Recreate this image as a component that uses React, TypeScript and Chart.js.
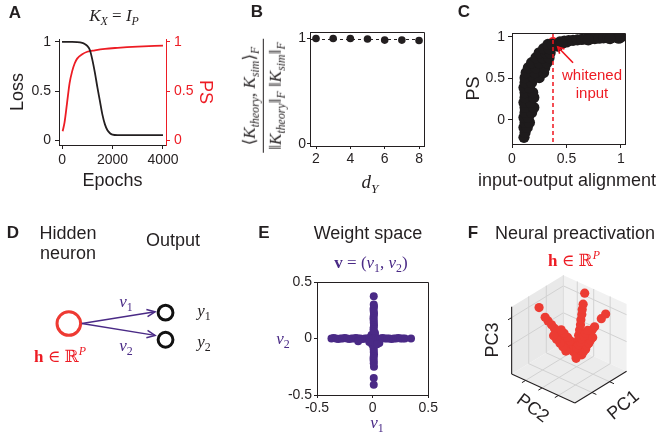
import React, { useEffect, useRef } from 'react';
import { Chart, registerables } from 'chart.js';

Chart.register(...registerables);

const SANS = '"Liberation Sans", Arial, Helvetica, sans-serif';
const SERIF = '"Liberation Serif", "DejaVu Serif", "Times New Roman", serif';
const INK = '#231f20';
const RED = '#ed1c24';
const PURPLE = '#4a2a86';
const F_RED = '#ec3c33';

// ---------- Panel A: training curves (K_X = I_P)
const lossEpochs = [0, 200, 400, 600, 800, 900, 1000, 1100, 1200, 1300, 1400, 1500, 1600, 1700, 1800, 1900, 2000, 2200, 2500, 3000, 3500, 4000];
const lossValues = [1.0, 1.0, 1.0, 0.998, 0.99, 0.98, 0.96, 0.92, 0.82, 0.69, 0.54, 0.4, 0.26, 0.16, 0.1, 0.07, 0.055, 0.05, 0.05, 0.05, 0.05, 0.05];
const psEpochs = [25, 100, 200, 300, 400, 500, 600, 800, 1000, 1300, 1700, 2200, 3000, 4000];
const psValues = [0.09, 0.18, 0.38, 0.58, 0.7, 0.78, 0.83, 0.875, 0.9, 0.915, 0.93, 0.94, 0.952, 0.963];
const epochTicks = [0, 2000, 4000];
const unitTicks = [0, 0.5, 1];

// ---------- Panel B: kernel alignment vs d_Y
const dY = [2, 3, 4, 5, 6, 7, 8];
const kernelAlign = [1.0, 1.0, 1.0, 0.995, 0.985, 0.985, 0.982];
const dYTicks = [2, 4, 6, 8];
const bYTicks = [0, 1];
const bRefLine = 1;

// ---------- Panel C: PS vs input-output alignment
const ioAlign = [
  0.11, 0.12, 0.11, 0.14, 0.12, 0.16, 0.11, 0.15, 0.12, 0.18, 0.12, 0.2, 0.11, 0.17, 0.12, 0.2, 0.12, 0.19, 0.11, 0.16, 0.12, 0.18,
  0.12, 0.2, 0.25, 0.13, 0.21, 0.29, 0.15, 0.22, 0.3, 0.18, 0.25, 0.32, 0.22, 0.28, 0.34, 0.25, 0.31, 0.35, 0.29, 0.34, 0.33, 0.37,
  0.42, 0.44, 0.48, 0.52, 0.56, 0.6, 0.64, 0.68, 0.72, 0.76, 0.8, 0.84, 0.88, 0.92, 0.96, 1.0, 0.98, 0.9, 0.7, 0.5, 0.46,
];
const psC = [
  -0.21, -0.15, -0.09, -0.09, -0.03, -0.03, 0.03, 0.03, 0.09, 0.09, 0.15, 0.15, 0.21, 0.21, 0.27, 0.27, 0.33, 0.33, 0.39, 0.39, 0.45, 0.45,
  0.51, 0.51, 0.51, 0.57, 0.57, 0.57, 0.63, 0.63, 0.63, 0.69, 0.69, 0.69, 0.75, 0.75, 0.75, 0.81, 0.81, 0.81, 0.86, 0.86, 0.91, 0.91,
  0.89, 0.94, 0.95, 0.955, 0.96, 0.965, 0.97, 0.975, 0.978, 0.98, 0.985, 0.99, 0.99, 0.995, 1.0, 1.0, 0.985, 0.98, 0.965, 0.94, 0.925,
];
const whitenedAlign = 0.376;
const whitenedPS = 0.94;
const cXTicks = [0, 0.5, 1];
const cYTicks = [0, 0.5, 1];
const arrowTail = { x: 0.56, y: 0.69 };
const arrowHead = { x: 0.42, y: 0.88 };

// ---------- Panel D: schematic (diagram layout units)
const hiddenNode = [{ x: 62, y: 113 }];
const outputNodes = [{ x: 173, y: 100.5 }, { x: 173, y: 131.5 }];
const arrowStarts = [{ x: 77, y: 113 }, { x: 77, y: 113 }];
const arrowEnds = [{ x: 161, y: 99.5 }, { x: 161, y: 126.5 }];

// ---------- Panel E: weight space
const horizV1 = [-0.37, -0.35, -0.33, -0.31, -0.29, -0.27, -0.25, -0.23, -0.21, -0.19, -0.17, -0.15, -0.13, -0.11, -0.09, -0.07, -0.05, -0.03, -0.01, 0.01, 0.03, 0.05, 0.07, 0.09, 0.11, 0.13, 0.15, 0.17, 0.19, 0.21, 0.23, 0.25, 0.27, 0.29, 0.345, -0.13, 0.06, 0.04, -0.03];
const horizV2 = [0, 0.005, 0, -0.005, 0, 0, 0.005, 0, -0.005, 0, 0, 0.005, 0, 0, -0.005, 0, 0, 0.005, 0, 0, 0, -0.005, 0, 0.005, 0, 0, 0, -0.005, 0, 0, 0.005, 0, 0, 0, 0, -0.025, -0.04, -0.05, -0.03];
const vertV1 = [0.01, 0.01, 0.012, 0.008, 0.01, 0.012, 0.01, 0.008, 0.01, 0.01, 0.012, 0.01, 0.008, 0.01, 0.02, 0.0, 0.01, 0.012, 0.01, 0.008, 0.01, 0.01, 0.012, 0.01, 0.008, 0.01, 0.01, 0.012, 0.01, 0.01, -0.01, 0.03, 0.02, -0.005];
const vertV2 = [0.375, 0.3, 0.28, 0.26, 0.24, 0.22, 0.2, 0.18, 0.16, 0.14, 0.12, 0.1, 0.08, 0.06, 0.04, 0.02, -0.02, -0.04, -0.06, -0.08, -0.1, -0.12, -0.14, -0.16, -0.18, -0.2, -0.22, -0.25, -0.35, -0.41, 0.03, -0.03, 0.05, -0.05];
const eTicks = [-0.5, 0, 0.5];

// ---------- Panel F: neural preactivation (PC coordinates, box units)
const pc1 = [
  0.44, 0.46, 0.49, 0.51, 0.53, 0.56, 0.58, 0.6, 0.62, 0.65, 0.67,
  0.46, 0.49, 0.51, 0.53, 0.56, 0.58,
  0.49, 0.51, 0.53, 0.56, 0.58,
  0.69,
  0.41, 0.39, 0.36, 0.34, 0.31, 0.28, 0.26, 0.23, 0.21, 0.18,
  0.15,
  0.42, 0.39, 0.37, 0.34, 0.32, 0.29, 0.27, 0.24, 0.22, 0.19,
  0.39, 0.37, 0.34, 0.32, 0.29, 0.27, 0.24,
  0.39, 0.37, 0.34, 0.32, 0.29, 0.27, 0.24,
  0.11, 0.05, 0.45,
];
const pc2 = [
  0.56, 0.53, 0.5, 0.47, 0.44, 0.41, 0.38, 0.35, 0.32, 0.29, 0.26,
  0.59, 0.56, 0.53, 0.5, 0.47, 0.44,
  0.44, 0.41, 0.38, 0.35, 0.32,
  0.18,
  0.55, 0.54, 0.53, 0.52, 0.51, 0.5, 0.49, 0.48, 0.47, 0.46,
  0.46,
  0.57, 0.58, 0.59, 0.6, 0.6, 0.61, 0.62, 0.63, 0.64, 0.65,
  0.61, 0.62, 0.63, 0.63, 0.64, 0.65, 0.66,
  0.53, 0.54, 0.55, 0.55, 0.56, 0.57, 0.58,
  0.69, 0.71, 0.57,
];
const pc3 = [
  0.25, 0.31, 0.36, 0.42, 0.47, 0.53, 0.58, 0.64, 0.69, 0.75, 0.8,
  0.38, 0.43, 0.49, 0.54, 0.6, 0.65,
  0.29, 0.35, 0.4, 0.46, 0.51,
  0.92,
  0.31, 0.37, 0.43, 0.49, 0.55, 0.61, 0.67, 0.73, 0.79, 0.85,
  1.0,
  0.29, 0.32, 0.36, 0.39, 0.43, 0.46, 0.5, 0.53, 0.57, 0.6,
  0.26, 0.3, 0.33, 0.37, 0.4, 0.44, 0.47,
  0.33, 0.37, 0.4, 0.44, 0.47, 0.51, 0.54,
  0.7, 0.75, 0.22,
];
const pc1Grid = [0.33, 0.67];
const pc2Grid = [0.22, 0.48, 0.74];
const pc3Grid = [0.44, 0.84];

// 3D view (oblique projection of the unit box)
const VIEW = { ox: 124, oy: 133, ax: -54, ay: 33, bx: 66, by: 30, cy: -70 };
function project(a: number, b: number, c: number) {
  return { x: VIEW.ox + VIEW.ax * a + VIEW.bx * b, y: VIEW.oy + VIEW.ay * a + VIEW.by * b + VIEW.cy * c };
}

// ---------- helpers
const baseOptions: any = {
  responsive: false,
  animation: false,
  devicePixelRatio: 1,
  events: [],
  plugins: { legend: { display: false }, tooltip: { enabled: false } },
};

function axis(o: any) {
  const color = o.color || INK;
  const horizontal = o.position === 'bottom';
  return {
    type: 'linear',
    position: o.position,
    min: o.min,
    max: o.max,
    afterBuildTicks: (s: any) => {
      s.ticks = o.ticks.map((value: number) => ({ value }));
    },
    afterFit: (s: any) => {
      if (horizontal) s.height = o.size;
      else s.width = o.size;
    },
    ticks: {
      color,
      font: { family: SANS, size: 14 },
      padding: o.tickPad ?? 3,
      autoSkip: false,
      maxRotation: 0,
      callback: (v: any) => String(v),
    },
    grid: { display: true, drawOnChartArea: false, drawTicks: true, tickLength: o.tickLen ?? 4, color, lineWidth: 1 },
    border: { display: true, color, width: 1 },
    title: o.title
      ? {
          display: true,
          text: o.title,
          color,
          font: { family: SANS, size: 18 },
          padding: horizontal ? { top: 0, bottom: o.titlePad ?? 0 } : { top: o.titlePad ?? 0, bottom: 0 },
        }
      : { display: false },
  };
}

const boxPlugin = {
  id: 'box',
  afterDatasetsDraw(chart: any) {
    const { ctx, chartArea } = chart;
    const l = Math.round(chartArea.left) + 0.5;
    const t = Math.round(chartArea.top) + 0.5;
    const r = Math.round(chartArea.right) + 0.5;
    const b = Math.round(chartArea.bottom) + 0.5;
    ctx.save();
    ctx.strokeStyle = INK;
    ctx.lineWidth = 1;
    ctx.beginPath();
    ctx.moveTo(l, t);
    ctx.lineTo(r, t);
    ctx.lineTo(r, b);
    ctx.stroke();
    ctx.restore();
  },
};

function ChartBox(props: { left: number; top: number; width: number; height: number; make: () => any }) {
  const ref = useRef<HTMLCanvasElement>(null);
  useEffect(() => {
    const chart = new Chart(ref.current as HTMLCanvasElement, props.make());
    return () => chart.destroy();
  }, []);
  return (
    <canvas
      ref={ref}
      width={props.width}
      height={props.height}
      style={{ position: 'absolute', left: props.left, top: props.top, width: props.width, height: props.height }}
    />
  );
}

// ---------- chart configs
function configA() {
  return {
    type: 'line',
    data: {
      datasets: [
        {
          data: lossEpochs.map((x, i) => ({ x, y: lossValues[i] })),
          borderColor: INK,
          borderWidth: 1.8,
          pointRadius: 0,
          cubicInterpolationMode: 'monotone',
          yAxisID: 'y',
        },
        {
          data: psEpochs.map((x, i) => ({ x, y: psValues[i] })),
          borderColor: RED,
          borderWidth: 1.8,
          pointRadius: 0,
          cubicInterpolationMode: 'monotone',
          yAxisID: 'y1',
        },
      ],
    },
    options: {
      ...baseOptions,
      layout: { padding: { top: 39, left: 0, right: 0, bottom: 0 } },
      scales: {
        x: axis({ min: -120, max: 4120, ticks: epochTicks, size: 55, position: 'bottom', title: 'Epochs', titlePad: 8 }),
        y: axis({ min: -0.05, max: 1.03, ticks: unitTicks, size: 59, position: 'left', title: 'Loss', titlePad: 7, tickPad: 4 }),
        y1: axis({ min: -0.05, max: 1.03, ticks: unitTicks, size: 54, position: 'right', color: RED, title: 'PS', titlePad: 4, tickPad: 4 }),
      },
    },
  };
}

const bRefPlugin = {
  id: 'bRef',
  beforeDatasetsDraw(chart: any) {
    const { ctx, chartArea, scales } = chart;
    const py = Math.round(scales.y.getPixelForValue(bRefLine)) + 0.5;
    ctx.save();
    ctx.strokeStyle = INK;
    ctx.lineWidth = 1;
    ctx.setLineDash([3, 3]);
    ctx.beginPath();
    ctx.moveTo(chartArea.left, py);
    ctx.lineTo(chartArea.right, py);
    ctx.stroke();
    ctx.restore();
  },
};

function configB() {
  return {
    type: 'scatter',
    data: {
      datasets: [
        {
          data: dY.map((x, i) => ({ x, y: kernelAlign[i] })),
          pointRadius: 3.8,
          backgroundColor: INK,
          borderWidth: 0,
        },
      ],
    },
    options: {
      ...baseOptions,
      layout: { padding: { top: 32, left: 0, right: 6, bottom: 0 } },
      scales: {
        x: axis({ min: 1.65, max: 8.29, ticks: dYTicks, size: 54, position: 'bottom', tickLen: 3, tickPad: 2 }),
        y: axis({ min: -0.02, max: 1.062, ticks: bYTicks, size: 90, position: 'left', tickLen: 3, tickPad: 1 }),
      },
    },
    plugins: [bRefPlugin, boxPlugin],
  };
}

const cMarkPlugin = {
  id: 'cMark',
  afterDatasetsDraw(chart: any) {
    const { ctx, chartArea, scales } = chart;
    const { x, y } = scales;
    const px = Math.round(x.getPixelForValue(whitenedAlign));
    ctx.save();
    ctx.strokeStyle = '#f0141e';
    ctx.lineWidth = 1.5;
    ctx.setLineDash([4, 3]);
    ctx.beginPath();
    ctx.moveTo(px, chartArea.top);
    ctx.lineTo(px, chartArea.bottom);
    ctx.stroke();
    ctx.setLineDash([]);
    const x0 = x.getPixelForValue(arrowTail.x);
    const y0 = y.getPixelForValue(arrowTail.y);
    const x1 = x.getPixelForValue(arrowHead.x);
    const y1 = y.getPixelForValue(arrowHead.y);
    ctx.lineWidth = 1.6;
    ctx.beginPath();
    ctx.moveTo(x0, y0);
    ctx.lineTo(x1, y1);
    ctx.stroke();
    const ang = Math.atan2(y1 - y0, x1 - x0);
    const L = 7;
    ctx.beginPath();
    ctx.moveTo(x1 - L * Math.cos(ang - 0.5), y1 - L * Math.sin(ang - 0.5));
    ctx.lineTo(x1, y1);
    ctx.lineTo(x1 - L * Math.cos(ang + 0.5), y1 - L * Math.sin(ang + 0.5));
    ctx.stroke();
    ctx.restore();
  },
};

function configC() {
  return {
    type: 'scatter',
    data: {
      datasets: [
        {
          data: ioAlign.map((x, i) => ({ x, y: psC[i] })),
          pointRadius: 5.6,
          backgroundColor: '#1e1b1c',
          borderWidth: 0,
        },
        {
          data: [{ x: whitenedAlign, y: whitenedPS }],
          pointRadius: 5,
          backgroundColor: RED,
          borderWidth: 0,
        },
      ],
    },
    options: {
      ...baseOptions,
      layout: { padding: { top: 33, left: 0, right: 33, bottom: 0 } },
      scales: {
        x: axis({ min: 0, max: 1.037, ticks: cXTicks, size: 56, position: 'bottom' }),
        y: axis({ min: -0.29, max: 1.048, ticks: cYTicks, size: 72, position: 'left', title: 'PS', titlePad: 23 }),
      },
    },
    plugins: [cMarkPlugin, boxPlugin],
  };
}

const dArrowPlugin = {
  id: 'dArrow',
  afterDatasetsDraw(chart: any) {
    const { ctx, scales } = chart;
    ctx.save();
    ctx.strokeStyle = PURPLE;
    ctx.lineWidth = 1.5;
    arrowEnds.forEach((end, i) => {
      const s = arrowStarts[i];
      const x0 = scales.x.getPixelForValue(s.x);
      const y0 = scales.y.getPixelForValue(s.y);
      const x1 = scales.x.getPixelForValue(end.x);
      const y1 = scales.y.getPixelForValue(end.y);
      const ang = Math.atan2(y1 - y0, x1 - x0);
      const L = 9;
      ctx.beginPath();
      ctx.moveTo(x1 - L * Math.cos(ang - 0.42), y1 - L * Math.sin(ang - 0.42));
      ctx.lineTo(x1, y1);
      ctx.lineTo(x1 - L * Math.cos(ang + 0.42), y1 - L * Math.sin(ang + 0.42));
      ctx.stroke();
    });
    ctx.restore();
  },
};

function hiddenScales(w: number, h: number) {
  return {
    x: { type: 'linear', display: false, min: 0, max: w },
    y: { type: 'linear', display: false, min: 0, max: h, reverse: true },
  };
}

function configD() {
  return {
    type: 'scatter',
    data: {
      datasets: [
        ...arrowEnds.map((end, i) => ({
          data: [arrowStarts[i], end],
          showLine: true,
          borderColor: PURPLE,
          borderWidth: 1.5,
          pointRadius: 0,
        })),
        {
          data: hiddenNode,
          pointRadius: 11.8,
          borderWidth: 3,
          borderColor: '#ee3a33',
          backgroundColor: 'rgba(0,0,0,0)',
        },
        {
          data: outputNodes,
          pointRadius: 7.4,
          borderWidth: 3,
          borderColor: '#111111',
          backgroundColor: 'rgba(0,0,0,0)',
        },
      ],
    },
    options: { ...baseOptions, scales: hiddenScales(230, 235) },
    plugins: [dArrowPlugin],
  };
}

function configE() {
  return {
    type: 'scatter',
    data: {
      datasets: [
        { data: horizV1.map((x, i) => ({ x, y: horizV2[i] })), pointRadius: 4, backgroundColor: PURPLE, borderWidth: 0 },
        { data: vertV1.map((x, i) => ({ x, y: vertV2[i] })), pointRadius: 4, backgroundColor: PURPLE, borderWidth: 0 },
      ],
    },
    options: {
      ...baseOptions,
      layout: { padding: { top: 72, left: 0, right: 7, bottom: 0 } },
      scales: {
        x: axis({ min: -0.5, max: 0.5, ticks: eTicks, size: 50, position: 'bottom', tickLen: 3, tickPad: 2 }),
        y: axis({ min: -0.5, max: 0.5, ticks: eTicks, size: 97, position: 'left', tickLen: 3, tickPad: 2 }),
      },
    },
    plugins: [boxPlugin],
  };
}

const fBoxPlugin = {
  id: 'fBox',
  beforeDatasetsDraw(chart: any) {
    const { ctx, scales } = chart;
    const P = (a: number, b: number, c: number) => {
      const p = project(a, b, c);
      return [scales.x.getPixelForValue(p.x), scales.y.getPixelForValue(p.y)];
    };
    const poly = (pts: number[][], fill: string) => {
      ctx.beginPath();
      pts.forEach((p, i) => (i ? ctx.lineTo(p[0], p[1]) : ctx.moveTo(p[0], p[1])));
      ctx.closePath();
      ctx.fillStyle = fill;
      ctx.fill();
    };
    const seg = (p: number[], q: number[], color: string, w: number) => {
      ctx.strokeStyle = color;
      ctx.lineWidth = w;
      ctx.beginPath();
      ctx.moveTo(p[0], p[1]);
      ctx.lineTo(q[0], q[1]);
      ctx.stroke();
    };
    ctx.save();
    poly([P(0, 0, 0), P(1, 0, 0), P(1, 0, 1), P(0, 0, 1)], '#e9e9e9');
    poly([P(0, 0, 0), P(0, 1, 0), P(0, 1, 1), P(0, 0, 1)], '#f1f1f1');
    poly([P(0, 0, 0), P(1, 0, 0), P(1, 1, 0), P(0, 1, 0)], '#ececec');
    const G = '#d2d2d2';
    pc1Grid.forEach((a) => seg(P(a, 0, 0), P(a, 0, 1), G, 1));
    pc3Grid.forEach((c) => seg(P(0, 0, c), P(1, 0, c), G, 1));
    pc2Grid.forEach((b) => seg(P(0, b, 0), P(0, b, 1), G, 1));
    pc3Grid.forEach((c) => seg(P(0, 0, c), P(0, 1, c), G, 1));
    pc1Grid.forEach((a) => seg(P(a, 0, 0), P(a, 1, 0), G, 1));
    pc2Grid.forEach((b) => seg(P(0, b, 0), P(1, b, 0), G, 1));
    seg(P(0, 0, 0), P(0, 0, 1), '#dcdcdc', 1);
    seg(P(1, 0, 0), P(1, 0, 1), INK, 1.1);
    seg(P(1, 0, 0), P(1, 1, 0), INK, 1.1);
    seg(P(1, 1, 0), P(0, 1, 0), INK, 1.1);
    pc3Grid.forEach((c) => seg(P(1, 0, c), P(1.07, 0, c), INK, 1));
    pc2Grid.forEach((b) => seg(P(1, b, 0), P(1.07, b, 0), INK, 1));
    pc1Grid.forEach((a) => seg(P(a, 1, 0), P(a, 1.07, 0), INK, 1));
    ctx.restore();
  },
};

function configF() {
  return {
    type: 'scatter',
    data: {
      datasets: [
        {
          data: pc1.map((a, i) => project(a, pc2[i], pc3[i])),
          pointRadius: 4.6,
          backgroundColor: F_RED,
          borderWidth: 0,
        },
      ],
    },
    options: { ...baseOptions, scales: hiddenScales(218, 235) },
    plugins: [fBoxPlugin],
  };
}

// ---------- text helpers
function T(props: { x: number; y: number; rot?: number; style?: any; children?: any }) {
  return (
    <div
      style={{
        position: 'absolute',
        left: props.x,
        top: props.y,
        transform: `translate(-50%, -50%)${props.rot ? ` rotate(${props.rot}deg)` : ''}`,
        whiteSpace: 'nowrap',
        lineHeight: 1.15,
        ...props.style,
      }}
    >
      {props.children}
    </div>
  );
}

function Sub(props: { children?: any; up?: boolean; it?: boolean }) {
  return (
    <span
      style={{
        fontSize: '0.7em',
        position: 'relative',
        top: props.up ? '-0.6em' : '0.35em',
        fontStyle: props.it ? 'italic' : 'normal',
      }}
    >
      {props.children}
    </span>
  );
}

const letter = { fontFamily: SANS, fontWeight: 'bold', fontSize: 17 };
const sans18 = { fontFamily: SANS, fontSize: 18 };
const math = { fontFamily: SERIF, fontSize: 17 };

export default function App() {
  useEffect(() => {
    document.body.style.margin = '0';
  }, []);
  return (
    <div
      style={{
        position: 'fixed',
        left: 0,
        top: 0,
        width: 658,
        height: 445,
        background: '#ffffff',
        overflow: 'hidden',
        color: INK,
        fontFamily: SANS,
      }}
    >
      <ChartBox left={0} top={0} width={220} height={200} make={configA} />
      <ChartBox left={220} top={0} width={210} height={200} make={configB} />
      <ChartBox left={440} top={0} width={218} height={200} make={configC} />
      <ChartBox left={0} top={210} width={230} height={235} make={configD} />
      <ChartBox left={220} top={210} width={220} height={235} make={configE} />
      <ChartBox left={440} top={210} width={218} height={235} make={configF} />

      {/* panel letters */}
      <T x={15} y={13} style={letter}>A</T>
      <T x={257} y={12} style={letter}>B</T>
      <T x={464} y={12} style={letter}>C</T>
      <T x={13} y={233} style={letter}>D</T>
      <T x={264} y={233} style={letter}>E</T>
      <T x={473} y={233} style={letter}>F</T>

      {/* A */}
      <T x={114} y={16} style={math}>
        <i>K</i>
        <Sub it>X</Sub> = <i>I</i>
        <Sub it>P</Sub>
      </T>

      {/* B */}
      <div
        style={{
          position: 'absolute',
          left: 263,
          top: 96,
          transform: 'translate(-50%, -50%) rotate(-90deg)',
          fontFamily: SERIF,
          fontSize: 17,
          display: 'flex',
          flexDirection: 'column',
          alignItems: 'center',
          lineHeight: 1.1,
          whiteSpace: 'nowrap',
        }}
      >
        <div style={{ paddingBottom: 3 }}>
          ⟨<i>K</i>
          <Sub it>theory</Sub>, <i>K</i>
          <Sub it>sim</Sub>⟩<Sub it>F</Sub>
        </div>
        <div style={{ borderTop: `1.3px solid ${INK}`, padding: '3px 3px 0' }}>
          ‖<i>K</i>
          <Sub it>theory</Sub>‖<Sub it>F</Sub> ‖<i>K</i>
          <Sub it>sim</Sub>‖<Sub it>F</Sub>
        </div>
      </div>
      <T x={370} y={182} style={{ fontFamily: SERIF, fontSize: 19 }}>
        <i>d</i>
        <Sub it>Y</Sub>
      </T>

      {/* C */}
      <T x={567} y={180} style={sans18}>input-output alignment</T>
      <T x={592} y={75} style={{ fontFamily: SANS, fontSize: 15, color: RED }}>whitened</T>
      <T x={592} y={93} style={{ fontFamily: SANS, fontSize: 15, color: RED }}>input</T>

      {/* D */}
      <T x={68} y={233} style={sans18}>Hidden</T>
      <T x={68} y={253} style={sans18}>neuron</T>
      <T x={173} y={240} style={sans18}>Output</T>
      <T x={126} y={302} style={{ ...math, color: PURPLE }}>
        <i>v</i>
        <Sub>1</Sub>
      </T>
      <T x={126} y={346} style={{ ...math, color: PURPLE }}>
        <i>v</i>
        <Sub>2</Sub>
      </T>
      <T x={204} y={311} style={math}>
        <i>y</i>
        <Sub>1</Sub>
      </T>
      <T x={204} y={342} style={math}>
        <i>y</i>
        <Sub>2</Sub>
      </T>
      <T x={60} y={357} style={{ ...math, color: RED }}>
        <b>h</b> ∈ ℝ<Sub up it>P</Sub>
      </T>

      {/* E */}
      <T x={368} y={233} style={sans18}>Weight space</T>
      <T x={371} y={263} style={{ ...math, color: PURPLE }}>
        <b>v</b> = (<i>v</i>
        <Sub>1</Sub>, <i>v</i>
        <Sub>2</Sub>)
      </T>
      <T x={283} y={339} style={{ ...math, color: PURPLE }}>
        <i>v</i>
        <Sub>2</Sub>
      </T>
      <T x={377} y={423} style={{ ...math, color: PURPLE }}>
        <i>v</i>
        <Sub>1</Sub>
      </T>

      {/* F */}
      <T x={575} y={233} style={sans18}>Neural preactivation</T>
      <T x={574} y={261} style={{ ...math, color: RED }}>
        <b>h</b> ∈ ℝ<Sub up it>P</Sub>
      </T>
      <T x={492} y={340} rot={-90} style={sans18}>PC3</T>
      <T x={533} y={408} rot={37} style={sans18}>PC2</T>
      <T x={623} y={405} rot={-40} style={sans18}>PC1</T>
    </div>
  );
}
